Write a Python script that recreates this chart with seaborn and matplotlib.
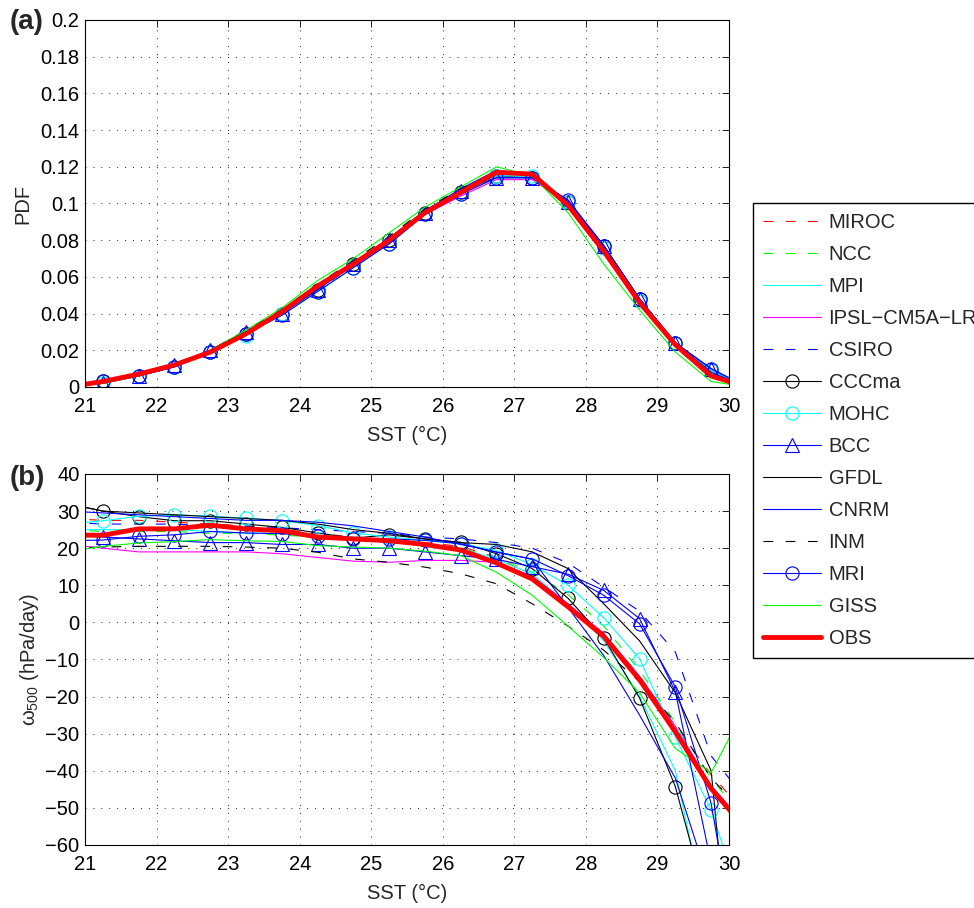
import matplotlib
matplotlib.use("Agg")
import matplotlib.pyplot as plt
import seaborn as sns

# bin centres (deg C); first/last fall just outside the axes and get clipped
sst_bins = [20.75, 21.25, 21.75, 22.25, 22.75, 23.25, 23.75, 24.25, 24.75, 25.25,
            25.75, 26.25, 26.75, 27.25, 27.75, 28.25, 28.75, 29.25, 29.75, 30.25]

models = ["MIROC", "NCC", "MPI", "IPSL\u2212CM5A\u2212LR", "CSIRO", "CCCma", "MOHC",
          "BCC", "GFDL", "CNRM", "INM", "MRI", "GISS", "OBS"]

# (a) PDF of SST
pdf_miroc = [0.000, 0.003, 0.007, 0.012, 0.020, 0.030, 0.041, 0.055, 0.068, 0.081, 0.096, 0.107, 0.116, 0.115, 0.099, 0.074, 0.046, 0.023, 0.007, 0.000]
pdf_ncc   = [0.000, 0.003, 0.006, 0.012, 0.019, 0.030, 0.042, 0.056, 0.068, 0.081, 0.096, 0.107, 0.117, 0.115, 0.098, 0.073, 0.045, 0.022, 0.006, 0.000]
pdf_mpi   = [0.000, 0.002, 0.006, 0.011, 0.019, 0.029, 0.040, 0.054, 0.066, 0.079, 0.095, 0.106, 0.115, 0.115, 0.100, 0.075, 0.047, 0.023, 0.008, 0.000]
pdf_ipsl  = [0.000, 0.003, 0.007, 0.012, 0.019, 0.029, 0.040, 0.054, 0.066, 0.078, 0.094, 0.104, 0.113, 0.113, 0.100, 0.075, 0.046, 0.023, 0.007, 0.000]
pdf_csiro = [0.000, 0.003, 0.006, 0.011, 0.019, 0.029, 0.040, 0.053, 0.066, 0.079, 0.095, 0.106, 0.116, 0.116, 0.101, 0.076, 0.047, 0.024, 0.009, 0.000]
pdf_cccma = [0.000, 0.003, 0.006, 0.011, 0.019, 0.029, 0.040, 0.053, 0.067, 0.080, 0.095, 0.106, 0.115, 0.114, 0.101, 0.077, 0.048, 0.024, 0.009, 0.000]
pdf_mohc  = [0.000, 0.002, 0.006, 0.011, 0.019, 0.028, 0.040, 0.052, 0.065, 0.078, 0.094, 0.105, 0.115, 0.115, 0.101, 0.076, 0.047, 0.024, 0.009, 0.000]
pdf_bcc   = [0.000, 0.002, 0.006, 0.012, 0.020, 0.030, 0.040, 0.053, 0.067, 0.080, 0.095, 0.107, 0.114, 0.114, 0.101, 0.077, 0.048, 0.024, 0.010, 0.000]
pdf_gfdl  = [0.000, 0.003, 0.007, 0.012, 0.020, 0.030, 0.041, 0.055, 0.068, 0.080, 0.096, 0.107, 0.117, 0.116, 0.100, 0.075, 0.047, 0.023, 0.007, 0.000]
pdf_cnrm  = [0.000, 0.003, 0.007, 0.012, 0.020, 0.030, 0.041, 0.055, 0.067, 0.081, 0.096, 0.108, 0.118, 0.116, 0.101, 0.076, 0.048, 0.024, 0.008, 0.000]
pdf_inm   = [0.000, 0.003, 0.007, 0.012, 0.020, 0.031, 0.042, 0.056, 0.069, 0.082, 0.097, 0.108, 0.117, 0.115, 0.098, 0.073, 0.045, 0.022, 0.005, 0.000]
pdf_mri   = [0.000, 0.003, 0.006, 0.011, 0.019, 0.029, 0.039, 0.052, 0.065, 0.078, 0.094, 0.105, 0.114, 0.114, 0.102, 0.077, 0.048, 0.024, 0.010, 0.000]
pdf_giss  = [0.000, 0.002, 0.006, 0.012, 0.020, 0.031, 0.043, 0.058, 0.070, 0.084, 0.098, 0.109, 0.120, 0.115, 0.095, 0.067, 0.042, 0.019, 0.003, 0.000]
pdf_obs   = [0.000, 0.003, 0.007, 0.012, 0.019, 0.029, 0.041, 0.055, 0.067, 0.080, 0.095, 0.106, 0.117, 0.116, 0.099, 0.074, 0.046, 0.023, 0.006, 0.000]

# (b) omega500 (hPa/day) composited on SST
w_miroc = [28.0, 27.5, 27.5, 27.0, 26.5, 26.0, 25.0, 24.0, 23.0, 22.5, 21.5, 20.5, 17.5, 12.5, 5.0, -3.0, -14.5, -28.0, -41.0, -52.0]
w_ncc   = [25.0, 24.5, 24.5, 24.5, 24.0, 24.0, 23.5, 23.0, 22.5, 21.5, 21.0, 20.0, 17.5, 13.5, 7.5, -1.0, -13.0, -27.0, -42.0, -54.0]
w_mpi   = [25.0, 25.0, 25.0, 25.0, 24.5, 24.0, 24.0, 23.5, 23.0, 22.0, 21.0, 20.0, 17.0, 13.0, 5.0, -5.0, -20.0, -40.0, -85.0, -120.0]
w_ipsl  = [21.0, 20.0, 19.0, 19.0, 19.0, 19.0, 18.5, 17.5, 16.5, 16.2, 16.7, 16.7, 16.2, 12.5, 5.0, -3.0, -14.5, -28.0, -44.0, -55.0]
w_csiro = [27.0, 26.5, 26.5, 26.5, 26.0, 26.0, 25.5, 25.0, 24.5, 24.0, 23.0, 22.5, 21.5, 20.0, 16.0, 9.5, 3.0, -8.0, -36.0, -48.0]
w_cccma = [32.0, 30.0, 28.5, 27.4, 27.4, 26.5, 25.6, 24.1, 22.7, 23.6, 22.5, 21.6, 18.5, 14.5, 6.5, -4.2, -20.4, -44.3, -80.0, -120.0]
w_mohc  = [26.5, 27.4, 28.6, 29.0, 28.6, 28.1, 27.4, 26.1, 24.1, 23.0, 22.1, 21.2, 19.4, 15.5, 10.0, 1.2, -9.8, -30.9, -50.6, -80.0]
w_bcc   = [23.5, 23.0, 22.5, 22.0, 21.5, 21.5, 21.0, 21.0, 20.0, 20.0, 19.0, 18.0, 17.0, 15.0, 13.0, 8.6, 1.0, -18.7, -65.0, -110.0]
w_gfdl  = [32.0, 30.0, 29.5, 29.0, 28.5, 28.0, 27.5, 26.5, 25.0, 24.0, 22.5, 21.5, 21.0, 19.0, 14.5, 5.0, -5.0, -19.0, -40.0, -140.0]
w_cnrm  = [30.0, 29.5, 29.0, 28.5, 28.0, 27.5, 27.5, 27.0, 26.0, 24.5, 23.0, 21.0, 19.0, 17.0, 4.0, -9.0, -25.0, -42.0, -72.0, -110.0]
w_inm   = [20.0, 20.3, 20.5, 20.5, 20.5, 20.3, 20.0, 18.9, 17.1, 16.2, 14.9, 13.1, 10.4, 5.0, -1.0, -7.5, -16.0, -27.0, -42.0, -52.0]
w_mri   = [22.0, 22.2, 23.2, 23.6, 24.5, 24.1, 23.9, 23.2, 22.5, 22.5, 22.1, 21.2, 18.9, 17.1, 12.6, 7.3, -0.4, -17.4, -48.8, -105.0]
w_giss  = [19.0, 20.5, 21.4, 21.8, 22.3, 22.0, 21.8, 20.7, 20.3, 20.0, 19.2, 18.0, 13.5, 7.3, -1.0, -9.5, -19.0, -34.0, -40.5, -22.0]
w_obs   = [23.5, 23.5, 25.2, 25.2, 26.2, 25.2, 24.7, 23.0, 22.5, 22.0, 21.0, 19.5, 16.0, 11.7, 4.2, -3.8, -15.5, -29.5, -44.8, -56.0]

pdf_series = [pdf_miroc, pdf_ncc, pdf_mpi, pdf_ipsl, pdf_csiro, pdf_cccma, pdf_mohc,
              pdf_bcc, pdf_gfdl, pdf_cnrm, pdf_inm, pdf_mri, pdf_giss, pdf_obs]
w_series = [w_miroc, w_ncc, w_mpi, w_ipsl, w_csiro, w_cccma, w_mohc,
            w_bcc, w_gfdl, w_cnrm, w_inm, w_mri, w_giss, w_obs]

x_ticks = [21, 22, 23, 24, 25, 26, 27, 28, 29, 30]
pdf_ticks = [0, 0.02, 0.04, 0.06, 0.08, 0.1, 0.12, 0.14, 0.16, 0.18, 0.2]
pdf_ticklabels = ["0", "0.02", "0.04", "0.06", "0.08", "0.1", "0.12", "0.14", "0.16", "0.18", "0.2"]
w_ticks = [-60, -50, -40, -30, -20, -10, 0, 10, 20, 30, 40]

# MATLAB-like line specs
DASH = (0, (7, 9))
line_specs = {
    "MIROC": dict(color="#ff0000", ls=DASH, marker=None),
    "NCC": dict(color="#00ff00", ls=DASH, marker=None),
    "MPI": dict(color="#00ffff", ls="-", marker=None),
    "IPSL\u2212CM5A\u2212LR": dict(color="#ff00ff", ls="-", marker=None),
    "CSIRO": dict(color="#0000ff", ls=DASH, marker=None),
    "CCCma": dict(color="#000000", ls="-", marker="o"),
    "MOHC": dict(color="#00ffff", ls="-", marker="o"),
    "BCC": dict(color="#0000ff", ls="-", marker="^"),
    "GFDL": dict(color="#000000", ls="-", marker=None),
    "CNRM": dict(color="#0000ff", ls="-", marker=None),
    "INM": dict(color="#000000", ls=DASH, marker=None),
    "MRI": dict(color="#0000ff", ls="-", marker="o"),
    "GISS": dict(color="#00ff00", ls="-", marker=None),
    "OBS": dict(color="#ff0000", ls="-", marker=None),
}

sns.set_style("white")
plt.rcParams["font.family"] = ["Liberation Sans", "DejaVu Sans"]
plt.rcParams["lines.scale_dashes"] = False
plt.rcParams["mathtext.fontset"] = "custom"
plt.rcParams["mathtext.rm"] = "Liberation Sans"
plt.rcParams["mathtext.it"] = "Liberation Sans"
FS = 14.5

fig = plt.figure(figsize=(9.74, 9.08), dpi=100)
ax_a = fig.add_axes([0.0873, 0.5738, 0.6612, 0.4042])
ax_b = fig.add_axes([0.0873, 0.0694, 0.6612, 0.4086])


def draw_panel(ax, series):
    handles = []
    for name, yv in zip(models, series):
        spec = line_specs[name]
        lw = 3.5 if name == "OBS" else 0.8
        sns.lineplot(x=sst_bins, y=yv, ax=ax, color=spec["color"], linestyle=spec["ls"],
                     marker=spec["marker"], markersize=9.5, markerfacecolor="none",
                     markeredgecolor=spec["color"], markeredgewidth=0.8, lw=lw,
                     errorbar=None, sort=False, legend=False)
        handles.append(ax.lines[-1])
    return handles


def style_axis(ax):
    ax.set_xlim(21, 30)
    ax.set_xticks(x_ticks)
    ax.grid(True, color="k", linestyle=(0, (0.7, 5)), lw=0.6)
    ax.tick_params(direction="in", length=5, width=0.6, top=True, right=True,
                   labelsize=FS, colors="k")
    ax.tick_params(axis="x", pad=7.5)
    ax.tick_params(axis="y", pad=4)
    for sp in ax.spines.values():
        sp.set_color("k")
        sp.set_linewidth(0.8)
    ax.set_xlabel("SST (\u00b0C)", fontsize=FS, labelpad=7)


handles = draw_panel(ax_a, pdf_series)
style_axis(ax_a)
ax_a.set_ylim(0, 0.2)
ax_a.set_yticks(pdf_ticks)
ax_a.set_yticklabels(pdf_ticklabels)
ax_a.set_ylabel("PDF", fontsize=FS)
ax_a.yaxis.set_label_coords(-0.082, 0.5)

draw_panel(ax_b, w_series)
style_axis(ax_b)
ax_b.set_ylim(-60, 40)
ax_b.set_yticks(w_ticks)
ax_b.set_ylabel(r"$\omega_{500}$ (hPa/day)", fontsize=FS)
ax_b.yaxis.set_label_coords(-0.068, 0.5)

fig.text(0.010, 1 - 22 / 908, "(a)", fontsize=20, fontweight="bold", va="center")
fig.text(0.010, 1 - 478 / 908, "(b)", fontsize=20, fontweight="bold", va="center")

# legend box runs off the right edge of the figure, as in the original
fig.legend(handles, models, loc="upper left", bbox_to_anchor=(753 / 974, 1 - 203 / 908),
           frameon=True, fancybox=False, edgecolor="k", framealpha=1, fontsize=FS,
           numpoints=1, handlelength=2.9, handletextpad=0.35, labelspacing=0.645,
           borderpad=0.5, borderaxespad=0)

fig.savefig("out.png", dpi=100)
